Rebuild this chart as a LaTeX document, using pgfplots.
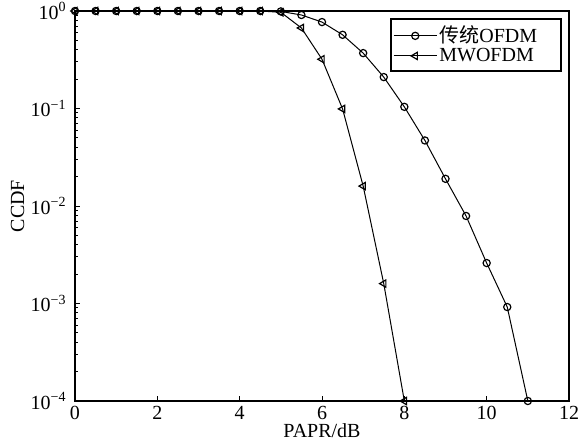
\documentclass[border=0pt]{standalone}
\usepackage{pgfplots}
\pgfplotsset{compat=1.18}
\usetikzlibrary{calc}
\usepackage{fontspec}
\setmainfont{Liberation Serif}
\newfontfamily\cjk{Noto Sans CJK SC}
\begin{document}
\fontsize{20}{23}\selectfont
\begin{tikzpicture}
\begin{semilogyaxis}[
  width=494pt, height=390pt, scale only axis,
  xmin=0, xmax=12, ymin=1e-4, ymax=1,
  xtick={0,2,...,12},
  ytick={1e-4,1e-3,1e-2,1e-1,1},
  yticklabels={10\textsuperscript{−4},10\textsuperscript{−3},10\textsuperscript{−2},10\textsuperscript{−1},10\textsuperscript{0}},
  /pgf/number format/assume math mode=true,
  tick align=inside, tick pos=left,
  minor tick num=0, minor ytick={},
  major tick length=5pt,
  tick style={line width=1pt, black},
  axis line style={line width=1.8pt},
  xlabel={PAPR/dB}, ylabel={CCDF},
  xlabel style={yshift=9pt},
  ylabel style={yshift=-7pt},
  xticklabel style={yshift=2pt},
  yticklabel style={xshift=-2pt},
  legend style={at={(0.986,0.982)}, anchor=north east, draw=black, line width=1.8pt,
    font=\fontsize{20}{21}\selectfont, inner xsep=2pt, inner ysep=5pt, row sep=-2pt,
    cells={anchor=west}},
  legend image code/.code={\draw[mark repeat=2,mark phase=2,line width=1pt] plot coordinates {(0cm,0cm)(0.76cm,0cm)(1.52cm,0cm)};},
]
\addplot[black, line width=1pt, mark=o, mark size=3.6pt, mark options={line width=1.2pt}] coordinates {
(0,1)(0.5,1)(1,1)(1.5,1)(2,1)(2.5,1)(3,1)(3.5,1)(4,1)(4.5,1)
(5,0.99)(5.5,0.91)(6,0.77)(6.5,0.57)(7,0.37)(7.5,0.21)(8,0.104)(8.5,0.047)
(9,0.019)(9.5,0.0079)(10,0.0026)(10.5,0.00092)(11,0.0001)};
\addlegendentry{{\cjk 传统}OFDM\hspace*{20pt}}
\addplot[black, line width=1pt, mark=triangle, mark size=4.2pt, mark options={rotate=90, line width=1.2pt}] coordinates {
(0,1)(0.5,1)(1,1)(1.5,1)(2,1)(2.5,1)(3,1)(3.5,1)(4,1)(4.5,1)
(5,0.97)(5.5,0.67)(6,0.32)(6.5,0.099)(7,0.016)(7.5,0.0016)(8,0.0001)};
\addlegendentry{MWOFDM}
\end{semilogyaxis}
\pgfresetboundingbox
\path[use as bounding box] ($(current axis.south west)+(-75pt,-44pt)$) rectangle ($(current axis.north east)+(9pt,11pt)$);
\end{tikzpicture}
\end{document}
